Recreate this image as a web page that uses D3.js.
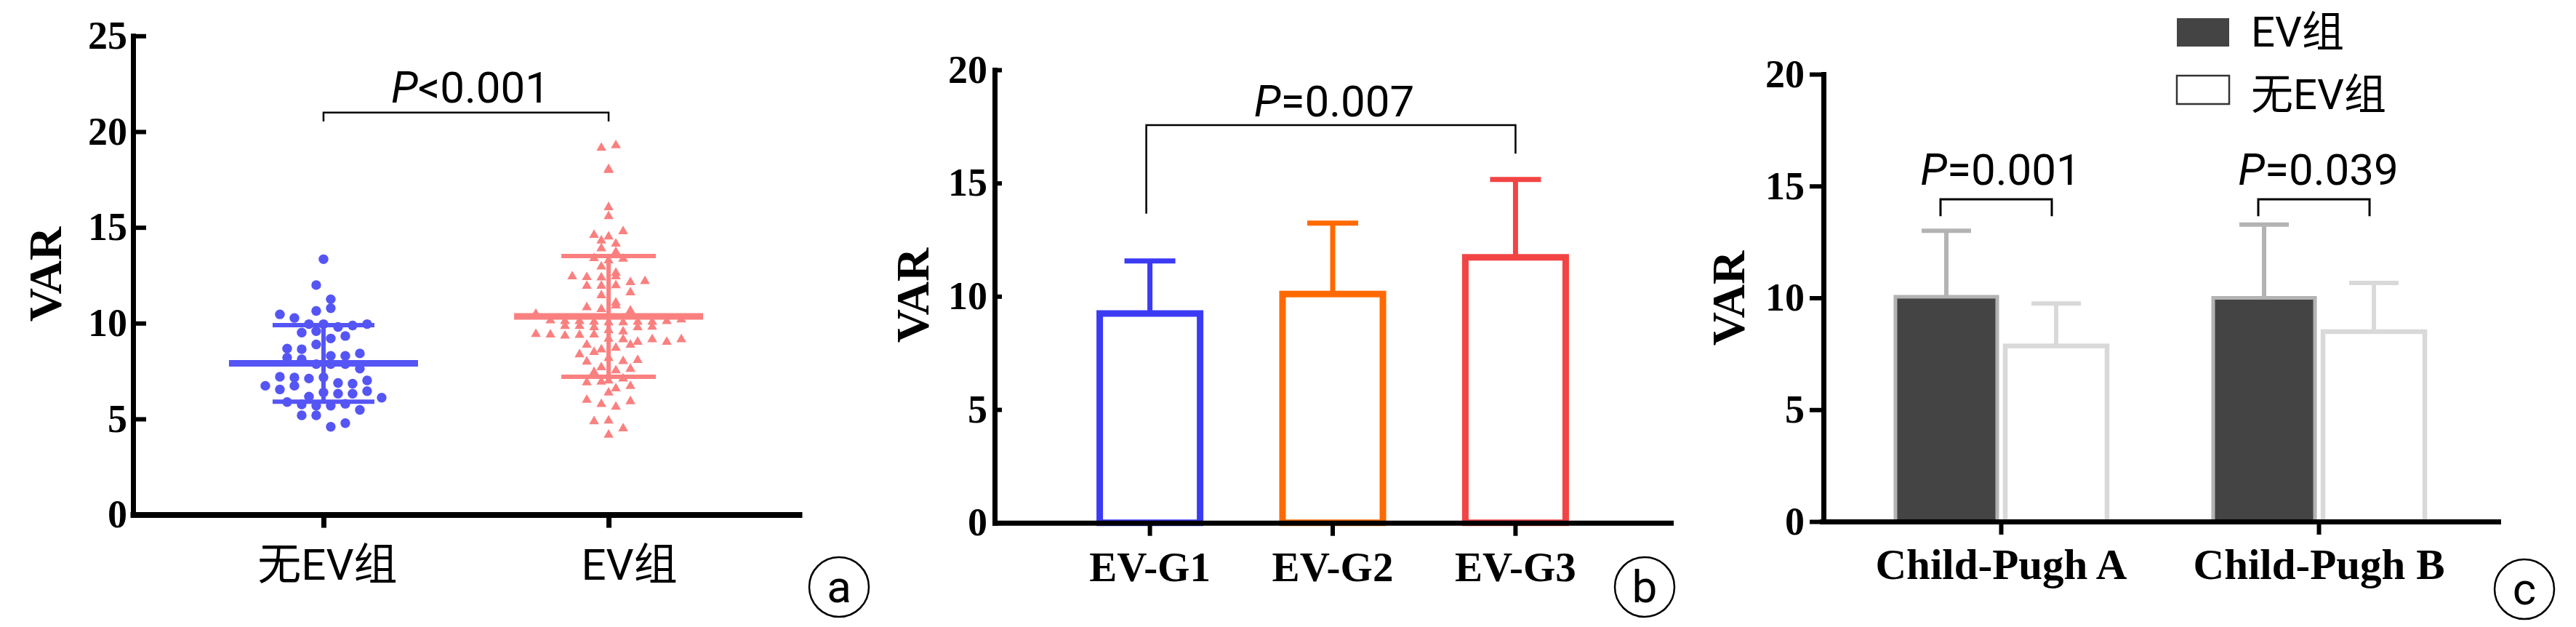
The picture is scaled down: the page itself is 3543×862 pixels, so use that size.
<!DOCTYPE html>
<html>
<head>
<meta charset="utf-8">
<script src="https://cdn.jsdelivr.net/npm/d3@7"></script>
<style>
  body { margin: 0; background: #fff; }
</style>
</head>
<body>
<svg id="chart" width="3543" height="862"></svg>
<script>
// ---- panel a : scatter with mean ± SD ----
const groupsA = ['无EV组', 'EV组'];
const ticksA = [0, 5, 10, 15, 20, 25];
const noEvValues = [13.34, 11.99, 11.25, 10.64, 10.46, 10.78, 10.27,
  9.95, 9.95, 9.80, 9.88, 9.95, 9.51, 9.58, 9.20, 9.33,
  8.67, 8.64, 8.89, 8.29, 8.20, 8.11, 8.29, 8.42,
  7.86, 7.86, 7.86, 7.63, 7.20, 7.16, 7.11, 7.17,
  6.88, 6.73, 6.54, 6.73, 6.84, 7.01, 6.17, 6.38, 6.32, 6.32, 6.45, 6.11,
  5.88, 5.76, 5.69, 5.69, 5.79, 5.19, 5.47, 5.19, 4.59, 4.78];
const evValues = [19.15, 19.28, 18.04, 17.99, 15.58, 16.05,
  14.60, 14.31, 14.15, 14.52, 14.79, 13.90, 13.39, 13.27, 13.36, 13.71, 12.95,
  12.44, 12.40, 12.38, 12.44, 12.63, 12.13, 11.94, 11.94, 11.97, 12.19, 11.60, 11.45,
  11.07, 10.82, 10.73, 10.92,
  10.48, 10.14, 10.10, 10.10, 10.06, 10.04, 9.85, 9.85, 10.04, 10.06, 10.06, 10.10, 10.19, 10.65,
  9.78, 9.63, 9.43, 9.40, 9.34, 9.38, 9.40, 9.56, 9.78, 9.81,
  9.18, 9.15, 9.02, 9.15, 9.02, 9.15,
  8.87, 8.62, 8.37, 8.49, 8.71, 8.87, 8.18, 8.01, 7.99, 8.07,
  7.69, 7.53, 7.44, 7.61, 7.00, 6.90, 6.94, 7.10, 6.59, 6.71, 6.37,
  5.99, 5.77, 5.63, 5.92, 4.87, 4.91, 4.17, 4.50];
const meanA = [7.9, 10.35];
const sdA = [2.0, 3.15];
const pTextA = '<0.001';

// ---- panel b : bars ----
const groupsB = ['EV-G1', 'EV-G2', 'EV-G3'];
const ticksB = [0, 5, 10, 15, 20];
const meanB = [9.24, 10.1, 11.72];
const sdB = [2.32, 3.13, 3.44];
const pTextB = '=0.007';

// ---- panel c : grouped bars ----
const groupsC = ['Child-Pugh A', 'Child-Pugh B'];
const seriesC = ['EV组', '无EV组'];
const ticksC = [0, 5, 10, 15, 20];
const meanEvC = [10.05, 10.0];
const sdEvC = [2.95, 3.28];
const meanNoEvC = [7.85, 8.49];
const sdNoEvC = [1.9, 2.18];
const pTextC = ['=0.001', '=0.039'];

const svg = d3.select('#chart');
const serif = "'Liberation Serif', 'Times New Roman', serif";
const sans = "Roboto, 'Noto Sans CJK SC', sans-serif";

function styleAxis(g, w) {
  g.attr('font-family', serif);
  g.select('.domain').attr('stroke', '#000').attr('stroke-width', w).attr('stroke-linecap', 'square');
  g.selectAll('.tick line').attr('stroke', '#000').attr('stroke-width', w - 1);
}

function yLabel(x, y) {
  svg.append('text')
    .attr('transform', `translate(${x},${y}) rotate(-90)`)
    .attr('text-anchor', 'middle')
    .attr('font-family', serif).attr('font-weight', 'bold').attr('font-size', 64)
    .text('VAR');
}

function pLabel(x, y, rest) {
  const t = svg.append('text')
    .attr('x', x).attr('y', y)
    .attr('text-anchor', 'middle')
    .attr('font-family', sans).attr('font-size', 60);
  t.append('tspan').attr('font-style', 'italic').text('P');
  t.append('tspan').text(rest);
}

function panelTag(x, y, letter) {
  svg.append('circle').attr('cx', x).attr('cy', y).attr('r', 41)
    .attr('fill', 'none').attr('stroke', '#000').attr('stroke-width', 2.5);
  svg.append('text').attr('x', x).attr('y', y + 21)
    .attr('text-anchor', 'middle')
    .attr('font-family', sans).attr('font-size', 62)
    .text(letter);
}

// simple column scatter: bin values, spread each bin sideways
function swarm(values, binW, step) {
  const bins = d3.bin().domain([0, 26]).thresholds(d3.range(0, 26, binW))(values);
  const out = [];
  bins.forEach(b => {
    b.forEach((v, i) => out.push({ v: v, off: (i - (b.length - 1) / 2) * step }));
  });
  return out;
}

// ================= panel a =================
const xA = d3.scalePoint().domain(groupsA).range([183, 1099]).padding(0.668);
const yA = d3.scaleLinear().domain([0, 25]).range([707.6, 49.3]);

const colorA = ['#5555f5', '#fa8080'];

const dotsA = svg.append('g');
dotsA.selectAll('circle')
  .data(swarm(noEvValues, 0.75, 20))
  .join('circle')
  .attr('cx', d => xA(groupsA[0]) + d.off)
  .attr('cy', d => yA(d.v))
  .attr('r', 6.7)
  .attr('fill', colorA[0]);

dotsA.selectAll('path')
  .data(swarm(evValues, 0.5, 20))
  .join('path')
  .attr('d', d3.symbol(d3.symbolTriangle, 80))
  .attr('transform', d => `translate(${xA(groupsA[1]) + d.off},${yA(d.v)})`)
  .attr('fill', colorA[1]);

const capA = [70, 65];
groupsA.forEach((g, i) => {
  const cx = xA(g);
  const s = svg.append('g').attr('stroke', colorA[i]);
  s.append('line').attr('x1', cx - 130).attr('x2', cx + 130)
    .attr('y1', yA(meanA[i])).attr('y2', yA(meanA[i])).attr('stroke-width', 9);
  s.append('line').attr('x1', cx).attr('x2', cx)
    .attr('y1', yA(meanA[i] - sdA[i])).attr('y2', yA(meanA[i] + sdA[i])).attr('stroke-width', 6);
  [meanA[i] - sdA[i], meanA[i] + sdA[i]].forEach(v => {
    s.append('line').attr('x1', cx - capA[i]).attr('x2', cx + capA[i])
      .attr('y1', yA(v)).attr('y2', yA(v)).attr('stroke-width', 6);
  });
});

const axA = svg.append('g').attr('transform', `translate(0,${yA(0)})`)
  .call(d3.axisBottom(xA).tickSizeInner(18).tickSizeOuter(0).tickPadding(29));
styleAxis(axA, 8);
axA.selectAll('.tick text')
  .attr('font-family', sans).attr('font-size', 60).attr('fill', '#000')
  .attr('dx', (d, i) => i ? 28 : 5);

const ayA = svg.append('g').attr('transform', `translate(183,0)`)
  .call(d3.axisLeft(yA).tickValues(ticksA).tickSizeInner(-18).tickSizeOuter(0).tickPadding(8));
styleAxis(ayA, 7);
ayA.selectAll('.tick text').attr('font-weight', 'bold').attr('font-size', 54).attr('fill', '#000');

svg.append('path')
  .attr('d', `M${xA(groupsA[0])},${yA(20.53)}V${yA(21)}H${xA(groupsA[1])}V${yA(20.53)}`)
  .attr('fill', 'none').attr('stroke', '#000').attr('stroke-width', 2.5);
pLabel((xA(groupsA[0]) + xA(groupsA[1])) / 2 + 6, yA(21.52), pTextA);
yLabel(84, 377);
panelTag(1154, 807, 'a');

// ================= panel b =================
const xB = d3.scaleBand().domain(groupsB).range([1368, 2298]).paddingInner(0.451).paddingOuter(0.575);
const yB = d3.scaleLinear().domain([0, 20]).range([718.7, 96]);
const colorB = ['#3b3bf4', '#ff6a00', '#f24444'];

groupsB.forEach((g, i) => {
  const cx = xB(g) + xB.bandwidth() / 2;
  const e = svg.append('g').attr('stroke', colorB[i]).attr('stroke-width', 7);
  e.append('line').attr('x1', cx).attr('x2', cx)
    .attr('y1', yB(meanB[i])).attr('y2', yB(meanB[i] + sdB[i]));
  e.append('line').attr('x1', cx - 35).attr('x2', cx + 35)
    .attr('y1', yB(meanB[i] + sdB[i])).attr('y2', yB(meanB[i] + sdB[i]));
});

svg.append('g').selectAll('rect')
  .data(groupsB)
  .join('rect')
  .attr('x', d => xB(d))
  .attr('width', xB.bandwidth())
  .attr('y', (d, i) => yB(meanB[i]))
  .attr('height', (d, i) => yB(0) - yB(meanB[i]))
  .attr('fill', '#fff')
  .attr('stroke', (d, i) => colorB[i])
  .attr('stroke-width', 9);

const axB = svg.append('g').attr('transform', `translate(0,${yB(0)})`)
  .call(d3.axisBottom(xB).tickSizeInner(18).tickSizeOuter(0).tickPadding(22));
styleAxis(axB, 7);
axB.selectAll('.tick text').attr('font-weight', 'bold').attr('font-size', 57).attr('fill', '#000');

const ayB = svg.append('g').attr('transform', `translate(1368,0)`)
  .call(d3.axisLeft(yB).tickValues(ticksB).tickSizeInner(-10).tickSizeOuter(0).tickPadding(10));
styleAxis(ayB, 7);
ayB.selectAll('.tick text').attr('font-weight', 'bold').attr('font-size', 54).attr('fill', '#000');

const cB = g => xB(g) + xB.bandwidth() / 2;
svg.append('path')
  .attr('d', `M${cB(groupsB[0]) - 5},${yB(13.65)}V${yB(17.56)}H${cB(groupsB[2])}V${yB(16.3)}`)
  .attr('fill', 'none').attr('stroke', '#000').attr('stroke-width', 2.5);
pLabel((cB(groupsB[0]) + cB(groupsB[2])) / 2 + 2, yB(17.95), pTextB);
yLabel(1277, 406);
panelTag(2262, 807, 'b');

// ================= panel c =================
const xC = d3.scaleBand().domain(groupsC).range([2506, 3436]).paddingInner(0.334).paddingOuter(0.231);
const xCin = d3.scaleBand().domain(seriesC).range([0, xC.bandwidth()]).paddingInner(0.073);
const yC = d3.scaleLinear().domain([0, 20]).range([717, 102]);

const cellsC = [];
groupsC.forEach((g, i) => {
  cellsC.push({ g: g, s: seriesC[0], m: meanEvC[i], sd: sdEvC[i] });
  cellsC.push({ g: g, s: seriesC[1], m: meanNoEvC[i], sd: sdNoEvC[i] });
});
const fillC = { 'EV组': '#444444', '无EV组': '#ffffff' };
const edgeC = { 'EV组': '#b3b3b3', '无EV组': '#d9d9d9' };
const edgeW = { 'EV组': 5, '无EV组': 6.5 };
const barX = d => xC(d.g) + xCin(d.s);

cellsC.forEach(d => {
  const cx = barX(d) + xCin.bandwidth() / 2;
  const e = svg.append('g').attr('stroke', edgeC[d.s]).attr('stroke-width', 6);
  e.append('line').attr('x1', cx).attr('x2', cx).attr('y1', yC(d.m)).attr('y2', yC(d.m + d.sd));
  e.append('line').attr('x1', cx - 34).attr('x2', cx + 34).attr('y1', yC(d.m + d.sd)).attr('y2', yC(d.m + d.sd));
});

svg.append('g').selectAll('rect')
  .data(cellsC)
  .join('rect')
  .attr('x', barX)
  .attr('width', xCin.bandwidth())
  .attr('y', d => yC(d.m))
  .attr('height', d => yC(0) - yC(d.m))
  .attr('fill', d => fillC[d.s])
  .attr('stroke', d => edgeC[d.s])
  .attr('stroke-width', d => edgeW[d.s]);

const axC = svg.append('g').attr('transform', `translate(0,${yC(0)})`)
  .call(d3.axisBottom(xC).tickSizeInner(18).tickSizeOuter(0).tickPadding(19));
styleAxis(axC, 7);
axC.selectAll('.tick text').attr('font-weight', 'bold').attr('font-size', 59).attr('fill', '#000');

const ayC = svg.append('g').attr('transform', `translate(2508,0)`)
  .call(d3.axisLeft(yC).tickValues(ticksC).tickSizeInner(19).tickSizeOuter(0).tickPadding(7));
styleAxis(ayC, 7);
ayC.selectAll('.tick text').attr('font-weight', 'bold').attr('font-size', 54).attr('fill', '#000');

groupsC.forEach((g, i) => {
  const l = xC(g) + xCin(seriesC[0]) + xCin.bandwidth() / 2 - 8;
  const r = xC(g) + xCin(seriesC[1]) + xCin.bandwidth() / 2 - 6;
  svg.append('path')
    .attr('d', `M${l},${yC(13.65)}V${yC(14.41)}H${r}V${yC(13.65)}`)
    .attr('fill', 'none').attr('stroke', '#000').attr('stroke-width', 3);
  pLabel((l + r) / 2 + 6, yC(15.06), pTextC[i]);
});

// legend
const leg = svg.append('g');
seriesC.forEach((s, i) => {
  leg.append('rect')
    .attr('x', 2994).attr('y', 25 + i * 79)
    .attr('width', 72).attr('height', 39)
    .attr('fill', fillC[s])
    .attr('stroke', i ? '#333' : 'none').attr('stroke-width', 2.5);
  leg.append('text')
    .attr('x', 3096).attr('y', 64 + i * 86)
    .attr('font-family', sans).attr('font-size', 58)
    .text(s);
});

yLabel(2399, 410);
panelTag(3472, 810, 'c');
</script>
</body>
</html>
